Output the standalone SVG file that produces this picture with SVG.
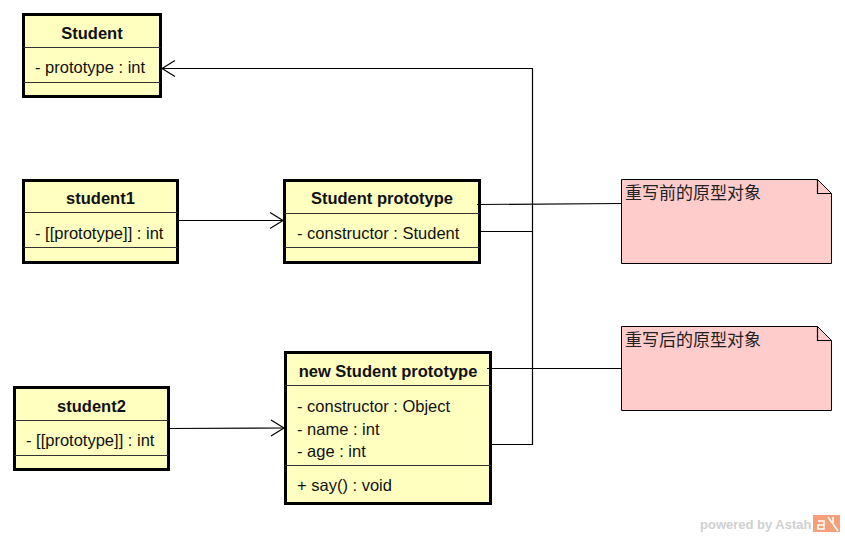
<svg xmlns="http://www.w3.org/2000/svg" width="845" height="537" viewBox="0 0 845 537">
<style>
.box{fill:#FFFFC0;stroke:#000;stroke-width:3}
.div{stroke:#333;stroke-width:1}
.t{font-family:"Liberation Sans",Arial,sans-serif;font-size:16.5px;fill:#111}
.b{font-weight:bold;text-anchor:middle}
.note{fill:#FFCCCC;stroke:#000;stroke-width:1}
.nt{font-family:"Noto Sans CJK SC","Liberation Sans",sans-serif;font-size:17px;fill:#222}
.ln{fill:none;stroke:#000;stroke-width:1.2}
</style>
<rect width="845" height="537" fill="#fff"/>
<g id="Student">
<rect class="box" x="23.5" y="14.5" width="137" height="82"/>
<line class="div" x1="23.5" y1="47.5" x2="160.5" y2="47.5"/>
<line class="div" x1="23.5" y1="82.5" x2="160.5" y2="82.5"/>
<text class="t b" x="92" y="38.5">Student</text>
<text class="t" x="35" y="73">- prototype : int</text>
</g>
<g id="student1">
<rect class="box" x="23.5" y="180.5" width="154" height="82"/>
<line class="div" x1="23.5" y1="212.5" x2="177.5" y2="212.5"/>
<line class="div" x1="23.5" y1="247.5" x2="177.5" y2="247.5"/>
<text class="t b" x="100.5" y="204">student1</text>
<text class="t" x="35" y="238.5">- [[prototype]] : int</text>
</g>
<g id="student2">
<rect class="box" x="14.5" y="387.5" width="154" height="82"/>
<line class="div" x1="14.5" y1="420.5" x2="168.5" y2="420.5"/>
<line class="div" x1="14.5" y1="455.5" x2="168.5" y2="455.5"/>
<text class="t b" x="91.5" y="412">student2</text>
<text class="t" x="26" y="446">- [[prototype]] : int</text>
</g>
<g id="StudentPrototype">
<rect class="box" x="284.5" y="180.5" width="195" height="82"/>
<line class="div" x1="284.5" y1="213.5" x2="479.5" y2="213.5"/>
<line class="div" x1="284.5" y1="247.5" x2="479.5" y2="247.5"/>
<text class="t b" x="382" y="204">Student prototype</text>
<text class="t" x="297" y="238.5">- constructor : Student</text>
</g>
<g id="NewStudentPrototype">
<rect class="box" x="285.5" y="352.5" width="205" height="151"/>
<line class="div" x1="285.5" y1="385.5" x2="490.5" y2="385.5"/>
<line class="div" x1="285.5" y1="465.5" x2="490.5" y2="465.5"/>
<text class="t b" x="388" y="377">new Student prototype</text>
<text class="t" x="297" y="411.5">- constructor : Object</text>
<text class="t" x="297" y="434.5">- name : int</text>
<text class="t" x="297" y="457">- age : int</text>
<text class="t" x="297" y="491">+ say() : void</text>
</g>
<g id="Note1">
<path class="note" d="M621.5 179.5H817.5L831.5 193.5V263.5H621.5Z"/>
<path class="ln" d="M817.5 179.5V193.5H831.5" stroke-width="1"/>
<text class="nt" x="625" y="199">重写前的原型对象</text>
</g>
<g id="Note2">
<path class="note" d="M621.5 326.5H817.5L831.5 340.5V410.5H621.5Z"/>
<path class="ln" d="M817.5 326.5V340.5H831.5" stroke-width="1"/>
<text class="nt" x="625" y="346">重写后的原型对象</text>
</g>
<g id="connectors">
<polyline class="ln" points="478,231.5 532.5,231.5 532.5,68.5 162,68.5"/>
<polyline class="ln" points="492,444.5 532.5,444.5 532.5,231.5"/>
<polyline class="ln" points="175,60.5 162,68.5 175,76.5"/>
<line class="ln" x1="178" y1="220.5" x2="283" y2="220.5"/>
<polyline class="ln" points="270,212.5 283,220.5 270,228.5"/>
<line class="ln" x1="169" y1="428.5" x2="284" y2="428"/>
<polyline class="ln" points="271,420 284,428 271,436"/>
<line class="ln" x1="477" y1="204.5" x2="621" y2="203.5"/>
<line class="ln" x1="487" y1="368.5" x2="621" y2="368.5"/>
</g>
<g id="watermark">
<text x="700" y="529" font-family="Liberation Sans,Arial,sans-serif" font-size="13" font-weight="bold" fill="#D0D0D0">powered by Astah</text>
<rect x="813" y="515" width="27" height="17" fill="#F4A07A"/>
<path d="M818 521h6v8h-6v-4h6M828 517l10 14M833 517v6" stroke="#fff" stroke-width="1.5" fill="none"/>
</g>
</svg>
